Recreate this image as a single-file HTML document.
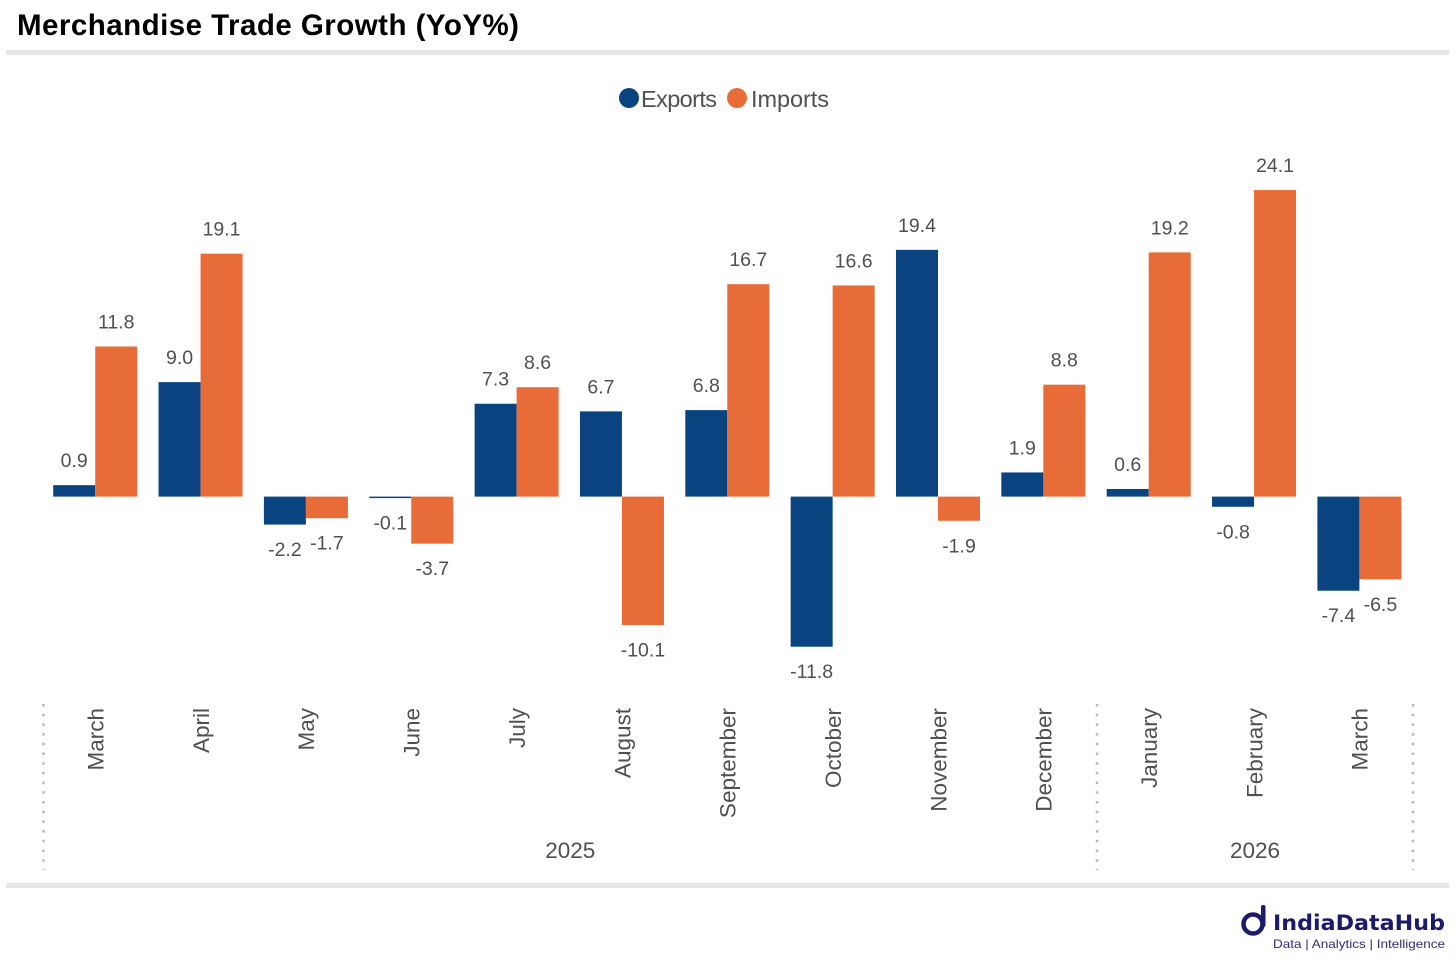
<!DOCTYPE html>
<html lang="en">
<head>
<meta charset="utf-8">
<title>Merchandise Trade Growth (YoY%)</title>
<style>
html,body{margin:0;padding:0;background:#fff;}
#stage{position:relative;width:1456px;height:962px;overflow:hidden;background:#fff;}
svg{display:block;font-family:"Liberation Sans",sans-serif;}
</style>
</head>
<body>
<div id="stage">
<svg id="chart" width="1456" height="962" viewBox="0 0 1456 962">
  <text x="17" y="35" font-size="29.5" font-weight="700" fill="#000" textLength="502" lengthAdjust="spacing">Merchandise Trade Growth (YoY%)</text>
  <rect x="6" y="50" width="1443" height="5" fill="#e6e6e6"/>
  <g>
    <g>
      <circle cx="629" cy="98" r="10" fill="#0a4480"/>
      <text x="641" y="107" font-size="23.5" fill="#505050" textLength="76">Exports</text>
    </g>
    <g>
      <circle cx="737" cy="98" r="10" fill="#e76c37"/>
      <text x="751" y="107" font-size="23.5" fill="#505050" textLength="78">Imports</text>
    </g>
  </g>
  <g id="bars"></g>
  <g id="labels"></g>
  <g id="axis"></g>
  <rect x="6" y="883" width="1443" height="5" fill="#e6e6e6"/>
  <g>
    <circle cx="1253" cy="924" r="9.5" fill="none" stroke="#1c1a6b" stroke-width="4.5"/>
    <rect x="1261" y="905" width="4.5" height="22" rx="2" fill="#1c1a6b"/>
    <text x="1273" y="930" font-size="21" font-weight="700" fill="#1c1a6b" textLength="172" lengthAdjust="spacingAndGlyphs" style="font-family:'DejaVu Sans',sans-serif">IndiaDataHub</text>
    <text x="1273" y="948" font-size="12" fill="#2f2d78" textLength="172" lengthAdjust="spacingAndGlyphs">Data | Analytics | Intelligence</text>
  </g>
</svg>
</div>
<script>
const months = ["March","April","May","June","July","August","September","October","November","December","January","February","March"];
const exportsValues = [0.9,9.0,-2.2,-0.1,7.3,6.7,6.8,-11.8,19.4,1.9,0.6,-0.8,-7.4];
const importsValues = [11.8,19.1,-1.7,-3.7,8.6,-10.1,16.7,16.6,-1.9,8.8,19.2,24.1,-6.5];
const years = ["2025","2026"];
const yearMonthCounts = [10,3];

const NS = "http://www.w3.org/2000/svg";
const zeroY = 496.6;
const pxPerUnit = 12.72;
const firstCenter = 95.2;
const step = 105.35;
const barW = 42;
const yScale = v => zeroY - v * pxPerUnit;
const xCenter = i => firstCenter + i * step;

function make(tag, attrs, text) {
  const el = document.createElementNS(NS, tag);
  for (const k in attrs) el.setAttribute(k, attrs[k]);
  if (text !== undefined) el.textContent = text;
  return el;
}
const barsG = document.getElementById("bars");
const labelsG = document.getElementById("labels");
const axisG = document.getElementById("axis");

function drawSeries(values, offset, color, key) {
  values.forEach((v, i) => {
    const x = xCenter(i) + offset;
    const top = Math.min(yScale(v), zeroY);
    const h = Math.abs(yScale(v) - zeroY);
    const rect = make("rect", {x: x, y: top, width: barW, height: Math.max(h, 1.5), fill: color});
    
    
    barsG.appendChild(rect);
    const ly = v >= 0 ? top - 18 : top + h + 31.5;
    const t = make("text", {x: x + barW / 2, y: ly, "font-size": 19.5, fill: "#505050", "text-anchor": "middle"}, v.toFixed(1));
    
    
    labelsG.appendChild(t);
  });
}
drawSeries(exportsValues, -barW, "#0a4480", "exports");
drawSeries(importsValues, 0, "#e76c37", "imports");

months.forEach((m, i) => {
  const cx = xCenter(i) + 1.3;
  const t = make("text", {transform: "translate(" + (cx + 7) + ",708) rotate(-90)", "font-size": 22.5, fill: "#505050", "text-anchor": "end"}, m);
  
  
  axisG.appendChild(t);
});

let startIdx = 0;
const sepX = i => xCenter(i) - step / 2 + 1;
function drawSep(i) {
  const x = sepX(i);
  const line = make("line", {x1: x, x2: x, y1: 704, y2: 870, stroke: "#b8b8b8", "stroke-width": 2.5, "stroke-dasharray": "2.5 7.2"});
  
  
  axisG.appendChild(line);
}
drawSep(0);
years.forEach((y, k) => {
  const endIdx = startIdx + yearMonthCounts[k];
  const cx = (sepX(startIdx) + sepX(endIdx)) / 2;
  const t = make("text", {x: cx, y: 858, "font-size": 22.5, fill: "#505050", "text-anchor": "middle"}, y);
  
  
  axisG.appendChild(t);
  drawSep(endIdx);
  startIdx = endIdx;
});
</script>
</body>
</html>
